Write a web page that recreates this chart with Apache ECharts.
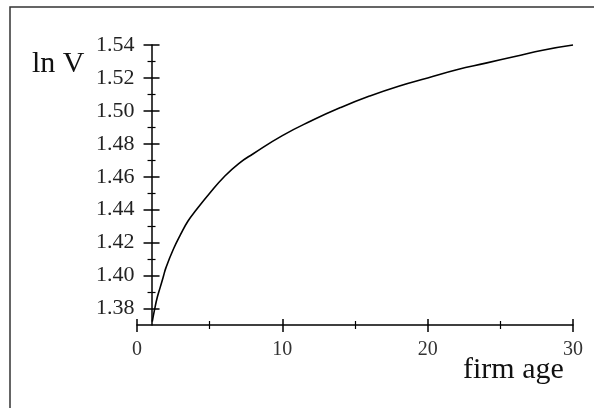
<!DOCTYPE html>
<html>
<head>
<meta charset="utf-8">
<script src="https://cdn.jsdelivr.net/npm/echarts@6/dist/echarts.min.js"></script>
<style>
html,body{margin:0;padding:0;background:#fff;}
#chart{width:594px;height:408px;}
</style>
</head>
<body>
<div id="chart"></div>
<script>
// firm age (x) and ln V (y)
const ages = [1.05, 1.2, 1.4, 1.6, 1.8, 2, 2.5, 3, 3.5, 4, 5, 6, 7, 8, 10, 12, 14, 16, 18, 20, 22, 24, 26, 28, 30];
const lnV  = [1.372, 1.379, 1.387, 1.393, 1.399, 1.405, 1.416, 1.425, 1.433, 1.439, 1.450, 1.460, 1.468, 1.474, 1.485, 1.494, 1.502, 1.509, 1.515, 1.520, 1.525, 1.529, 1.533, 1.537, 1.540];
// tick values
const yMajorTicks = [1.38, 1.40, 1.42, 1.44, 1.46, 1.48, 1.50, 1.52, 1.54];
const yMinorTicks = [1.39, 1.41, 1.43, 1.45, 1.47, 1.49, 1.51, 1.53];
const xTickLabels = ['0', '10', '20', '30'];
const yAxisName = 'ln V';
const xAxisName = 'firm age';

const FONT = 'Liberation Serif';
const chart = echarts.init(document.getElementById('chart'), null, {renderer: 'canvas'});

const gridLeft = 137, gridRight = 21;
const gridWidth = 594 - gridLeft - gridRight;
const yOffset = -(gridWidth / 30) * 1; // y axis crosses at firm age = 1

function yAx(extra) {
  return Object.assign({
    type: 'value', min: 1.37, max: 1.54, position: 'left', offset: yOffset,
    splitLine: {show: false},
    axisLine: {show: false},
    axisLabel: {show: false},
    axisTick: {show: false}
  }, extra);
}
function xAx(extra) {
  return Object.assign({
    type: 'value', min: 0, max: 30, interval: 10, position: 'bottom',
    splitLine: {show: false}, minorSplitLine: {show: false},
    axisLine: {show: false},
    axisLabel: {show: false},
    axisTick: {show: false}
  }, extra);
}

const option = {
  animation: false,
  backgroundColor: '#fff',
  grid: {left: gridLeft, right: gridRight, top: 45, bottom: 83, containLabel: false},
  xAxis: [
    xAx({
      axisLine: {show: true, onZero: false, lineStyle: {color: '#000', width: 1.5}},
      axisTick: {show: true, inside: false, length: 7, lineStyle: {color: '#000', width: 1.5}},
      minorTick: {show: true, splitNumber: 2, length: 4, lineStyle: {color: '#000', width: 1.2}},
      axisLabel: {show: true, margin: 15, fontFamily: FONT, fontSize: 20, color: '#333',
        formatter: function (v) { return xTickLabels[Math.round(v / 10)]; }}
    }),
    xAx({
      axisTick: {show: true, inside: true, length: 6, lineStyle: {color: '#000', width: 1.5}},
      minorTick: {show: true, splitNumber: 2, length: 4, lineStyle: {color: '#000', width: 1.2}}
    })
  ],
  yAxis: [
    yAx({
      axisLine: {show: true, onZero: false, lineStyle: {color: '#000', width: 1.5}},
      axisTick: {show: true, inside: false, length: 8, customValues: yMajorTicks, lineStyle: {color: '#000', width: 1.5}},
      axisLabel: {show: true, margin: 17, customValues: yMajorTicks, fontFamily: FONT, fontSize: 22, color: '#222',
        formatter: function (v) { return v.toFixed(2); }}
    }),
    yAx({
      axisTick: {show: true, inside: true, length: 8, customValues: yMajorTicks, lineStyle: {color: '#000', width: 1.5}}
    }),
    yAx({
      axisTick: {show: true, inside: false, length: 4, customValues: yMinorTicks, lineStyle: {color: '#000', width: 1.2}}
    }),
    yAx({
      axisTick: {show: true, inside: true, length: 4, customValues: yMinorTicks, lineStyle: {color: '#000', width: 1.2}}
    })
  ],
  series: [{
    type: 'line',
    xAxisIndex: 0, yAxisIndex: 0,
    data: ages.map(function (a, i) { return [a, lnV[i]]; }),
    showSymbol: false,
    smooth: 0.5,
    lineStyle: {color: '#000', width: 1.6},
    clip: false
  }],
  graphic: [
    {type: 'polyline', shape: {points: [[10, 408], [10, 7], [594, 7]]}, style: {stroke: '#333', lineWidth: 1.5, fill: null}, silent: true},
    {type: 'text', x: 32, y: 64, style: {text: yAxisName, font: '30px "' + FONT + '"', fill: '#111', verticalAlign: 'middle', align: 'left'}},
    {type: 'text', x: 463, y: 370, style: {text: xAxisName, font: '30px "' + FONT + '"', fill: '#111', verticalAlign: 'middle', align: 'left'}}
  ]
};
chart.setOption(option);
</script>
</body>
</html>
